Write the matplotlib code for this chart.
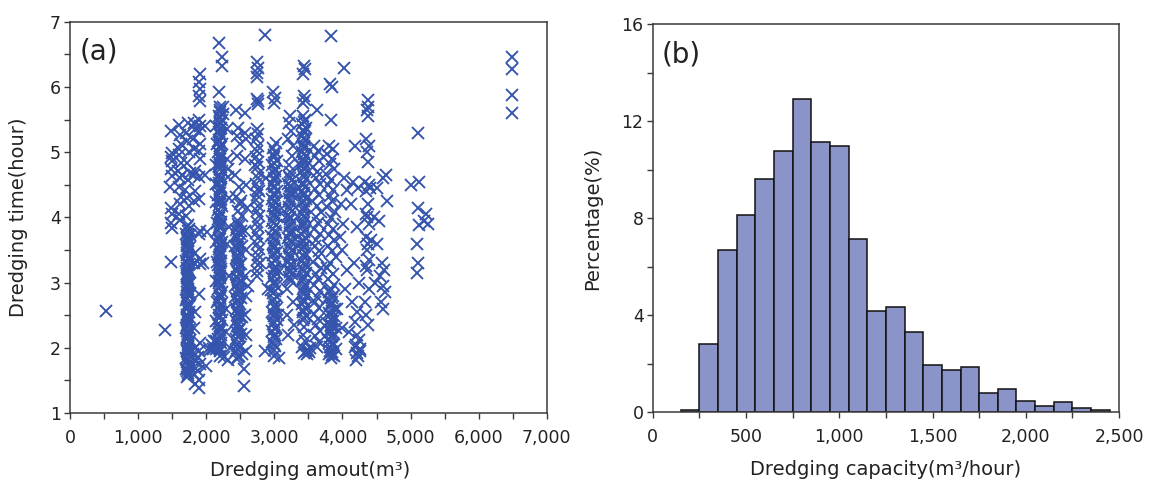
import numpy as np
import matplotlib
matplotlib.use("Agg")
import matplotlib.pyplot as plt
from matplotlib.ticker import MultipleLocator, FuncFormatter

# ---- (a) dredging amount (m3) vs. dredging time (hour), grouped by column ----
col_isolated = [(533, 2.56), (1402, 2.27)]

col_1500 = [(1480, 5.32), (1492, 4.99), (1476, 4.93), (1500, 4.86), (1486, 4.74), (1497, 4.64),
            (1470, 4.47), (1488, 4.14), (1482, 3.91), (1503, 3.84), (1485, 3.31), (1495, 4.05)]

col_1600 = [(1598, 5.42), (1612, 5.27), (1625, 5.12), (1604, 4.96), (1633, 4.83), (1590, 4.71),
            (1618, 4.60), (1606, 4.46), (1628, 4.31), (1611, 4.20), (1600, 4.06), (1622, 3.96),
            (1640, 4.65), (1595, 5.05)]

col_1720 = [(1718, 1.55), (1734, 1.61), (1709, 1.68), (1741, 1.72), (1722, 1.79), (1705, 1.85),
            (1738, 1.90), (1716, 1.96), (1727, 2.02), (1744, 2.09), (1712, 2.14), (1730, 2.20),
            (1720, 2.26), (1707, 2.31), (1739, 2.38), (1725, 2.44), (1714, 2.50), (1746, 2.55),
            (1721, 2.62), (1733, 2.68), (1708, 2.73), (1740, 2.80), (1717, 2.86), (1729, 2.91),
            (1711, 2.97), (1736, 3.04), (1723, 3.10), (1745, 3.15), (1715, 3.22), (1731, 3.27),
            (1706, 3.34), (1742, 3.39), (1719, 3.46), (1728, 3.52), (1713, 3.57), (1737, 3.64),
            (1724, 3.70), (1710, 3.75), (1743, 3.82), (1726, 3.88),
            (1760, 1.70), (1752, 1.83), (1765, 1.95), (1757, 2.12), (1762, 2.29), (1750, 2.47),
            (1768, 2.66), (1755, 2.84), (1763, 3.00), (1751, 3.18), (1766, 3.36), (1758, 3.55),
            (1761, 3.73),
            (1700, 4.02), (1745, 4.18), (1720, 4.30), (1690, 4.42), (1735, 4.57), (1760, 4.68),
            (1715, 4.83), (1740, 5.00), (1725, 5.18), (1705, 5.30), (1730, 5.45)]
col_1720_core = [(1726, 1.58), (1719, 1.64), (1731, 1.75), (1723, 1.82), (1729, 1.93), (1717, 1.99),
                 (1733, 2.05), (1721, 2.17), (1728, 2.23), (1716, 2.35), (1732, 2.41), (1724, 2.47),
                 (1718, 2.59), (1730, 2.65), (1722, 2.76), (1727, 2.83), (1720, 2.94), (1734, 3.00),
                 (1725, 3.07), (1717, 3.13), (1729, 3.19), (1723, 3.30), (1731, 3.36), (1719, 3.43),
                 (1727, 3.49), (1733, 3.60), (1721, 3.67), (1728, 3.79), (1718, 3.85)]

col_1870 = [(1905, 6.20), (1898, 6.08), (1912, 5.97), (1893, 5.87), (1907, 5.79), (1901, 5.50),
            (1915, 5.41), (1890, 5.32), (1904, 5.12), (1896, 5.02), (1910, 4.90), (1900, 4.62),
            (1892, 4.29), (1908, 3.80), (1897, 3.74), (1913, 3.36), (1902, 3.28), (1894, 2.83),
            (1909, 2.07), (1899, 1.95), (1886, 1.86), (1905, 1.76), (1880, 1.65), (1895, 1.50),
            (1888, 1.38),
            (1820, 5.45), (1835, 5.36), (1812, 5.20), (1828, 5.05), (1840, 4.72), (1818, 4.65),
            (1832, 4.40), (1825, 4.25), (1838, 3.45), (1815, 3.30), (1830, 2.55), (1822, 2.30),
            (1842, 2.00), (1810, 1.90), (1836, 1.80), (1826, 1.70), (1819, 1.60), (1833, 1.45)]

col_2000 = [(1985, 4.65), (2010, 3.78), (2035, 2.00), (1995, 1.72), (2050, 1.97), (2080, 2.05),
            (2100, 1.98), (2115, 2.10), (1960, 3.30), (1975, 5.40)]

col_2200 = [(2198, 1.96), (2183, 2.02), (2214, 2.07), (2176, 2.13), (2221, 2.20), (2190, 2.25),
            (2207, 2.31), (2179, 2.37), (2226, 2.43), (2194, 2.50), (2211, 2.55), (2185, 2.61),
            (2219, 2.68), (2173, 2.73), (2203, 2.79), (2229, 2.85), (2188, 2.92), (2216, 2.97),
            (2181, 3.03), (2209, 3.10), (2196, 3.15), (2224, 3.21), (2177, 3.27), (2212, 3.34),
            (2192, 3.39), (2218, 3.45), (2184, 3.52), (2205, 3.57), (2231, 3.63), (2187, 3.69),
            (2215, 3.75), (2174, 3.81), (2201, 3.87), (2222, 3.93), (2189, 3.99), (2210, 4.05),
            (2180, 4.11), (2227, 4.17), (2197, 4.24), (2213, 4.29), (2178, 4.35), (2206, 4.42),
            (2223, 4.47), (2186, 4.53), (2217, 4.60), (2193, 4.65), (2228, 4.71), (2182, 4.78),
            (2208, 4.83), (2199, 4.89), (2220, 4.95), (2175, 5.01), (2204, 5.07), (2225, 5.13),
            (2191, 5.19), (2212, 5.25), (2183, 5.31), (2218, 5.38), (2196, 5.43), (2230, 5.49),
            (2188, 5.56), (2209, 5.62), (2200, 5.69),
            (2150, 2.10), (2145, 2.42), (2155, 2.71), (2148, 3.02), (2152, 3.31), (2146, 3.63),
            (2154, 3.92), (2149, 4.24), (2151, 4.52), (2147, 4.81), (2153, 5.12), (2150, 5.40),
            (2185, 6.68), (2225, 6.46), (2232, 6.33), (2190, 5.93), (2205, 1.88), (2262, 1.86),
            (2140, 1.98), (2250, 5.70), (2240, 5.58)]
col_2200_core = [(2202, 1.99), (2195, 2.10), (2208, 2.16), (2199, 2.28), (2204, 2.34), (2193, 2.46),
                 (2206, 2.58), (2200, 2.64), (2197, 2.76), (2209, 2.82), (2202, 2.95), (2194, 3.00),
                 (2205, 3.07), (2199, 3.18), (2207, 3.24), (2196, 3.30), (2203, 3.42), (2200, 3.49),
                 (2208, 3.60), (2195, 3.66), (2204, 3.72), (2198, 3.84), (2206, 3.90), (2193, 4.02),
                 (2201, 4.08), (2209, 4.20), (2196, 4.27), (2203, 4.38), (2199, 4.45), (2207, 4.57),
                 (2194, 4.62), (2202, 4.75), (2205, 4.80), (2197, 4.92), (2208, 4.98), (2200, 5.10),
                 (2195, 5.16), (2204, 5.28), (2198, 5.35), (2206, 5.46), (2201, 5.53), (2197, 5.65)]

col_2330 = [(2300, 4.90), (2320, 4.62), (2340, 4.30), (2310, 3.60), (2330, 3.10), (2295, 2.60),
            (2345, 2.00), (2315, 1.82), (2325, 4.75), (2305, 5.35), (2335, 3.85), (2290, 2.25)]

col_2470 = [(2455, 1.83), (2478, 1.88), (2440, 1.95), (2492, 2.01), (2466, 2.06), (2430, 2.13),
            (2484, 2.19), (2450, 2.24), (2500, 2.31), (2461, 2.37), (2436, 2.42), (2488, 2.49),
            (2472, 2.55), (2445, 2.60), (2496, 2.67), (2458, 2.73), (2427, 2.78), (2481, 2.85),
            (2468, 2.91), (2439, 2.96), (2494, 3.03), (2452, 3.09), (2475, 3.14), (2433, 3.21),
            (2486, 3.27), (2463, 3.32), (2447, 3.39), (2498, 3.45), (2470, 3.50), (2425, 3.57),
            (2483, 3.63), (2457, 3.68), (2491, 3.75), (2443, 3.81), (2474, 3.87), (2460, 3.94),
            (2520, 1.90), (2515, 2.21), (2523, 2.48), (2518, 2.76), (2525, 3.01), (2512, 3.29),
            (2521, 3.56), (2516, 3.79), (2524, 4.02), (2514, 4.26),
            (2430, 5.65), (2470, 5.37), (2445, 5.25), (2490, 5.12), (2455, 4.95), (2425, 4.65),
            (2480, 4.47), (2440, 4.32), (2500, 4.20), (2465, 4.10),
            (2555, 1.67), (2560, 1.42)]
col_2470_core = [(2462, 1.86), (2470, 1.98), (2456, 2.04), (2466, 2.16), (2474, 2.27), (2459, 2.34),
                 (2468, 2.45), (2463, 2.52), (2476, 2.63), (2457, 2.70), (2467, 2.81), (2472, 2.88),
                 (2461, 2.99), (2469, 3.06), (2458, 3.18), (2473, 3.24), (2464, 3.36), (2455, 3.42),
                 (2471, 3.54), (2466, 3.60), (2459, 3.71), (2468, 3.78), (2463, 3.90)]

col_2570 = [(2575, 5.60), (2565, 5.30), (2585, 5.20), (2570, 4.90), (2580, 4.50), (2568, 3.80),
            (2590, 3.50), (2572, 3.10), (2583, 2.80), (2566, 2.50), (2578, 2.20), (2588, 1.95),
            (2600, 4.15), (2610, 2.95)]

col_2750 = [(2745, 6.38), (2760, 6.30), (2752, 6.22), (2740, 6.15), (2748, 5.81), (2763, 5.78),
            (2755, 5.74), (2742, 5.35), (2758, 5.28), (2735, 5.20), (2766, 5.10), (2749, 5.02),
            (2731, 4.93), (2761, 4.85), (2744, 4.77), (2770, 4.68), (2753, 4.60), (2738, 4.52),
            (2764, 4.43), (2747, 4.35), (2733, 4.27), (2759, 4.18), (2751, 4.10), (2768, 4.02),
            (2741, 3.93), (2756, 3.85), (2736, 3.76), (2762, 3.68), (2746, 3.60), (2771, 3.51),
            (2754, 3.43), (2739, 3.35), (2765, 3.27), (2750, 3.18), (2743, 3.10), (2780, 4.40),
            (2790, 3.30), (2715, 4.80)]

col_2860 = [(2868, 6.80), (2858, 1.95), (2880, 4.60), (2900, 2.90)]

col_3000 = [(2990, 1.97), (3015, 2.03), (2972, 2.09), (3030, 2.14), (3002, 2.20), (2960, 2.26),
            (3021, 2.32), (2983, 2.37), (3040, 2.43), (2995, 2.49), (2966, 2.55), (3026, 2.60),
            (3008, 2.66), (2978, 2.72), (3035, 2.78), (2987, 2.84), (2958, 2.89), (3018, 2.95),
            (3000, 3.01), (2970, 3.07), (3032, 3.13), (2992, 3.18), (3012, 3.24), (2963, 3.30),
            (3024, 3.36), (2981, 3.42), (3038, 3.47), (2998, 3.53), (2975, 3.59), (3010, 3.65),
            (2956, 3.71), (3028, 3.76), (2985, 3.82), (3019, 3.88), (2967, 3.94), (3036, 4.00),
            (2994, 4.05), (3005, 4.11), (2977, 4.17), (3022, 4.23), (2961, 4.29), (2989, 4.35),
            (3033, 4.40), (3013, 4.46), (2971, 4.52), (3000, 4.58), (3027, 4.64), (2980, 4.70),
            (3016, 4.75), (2965, 4.81), (3039, 4.87), (2996, 4.93), (3009, 5.00), (2984, 5.07),
            (3025, 5.14),
            (2985, 5.92), (3010, 5.83), (2998, 5.76), (3075, 1.85), (3000, 1.88), (3060, 2.50),
            (3055, 3.20), (3065, 4.10)]
col_3000_core = [(2998, 2.06), (2990, 2.17), (3004, 2.29), (2995, 2.40), (3002, 2.52), (2988, 2.63),
                 (2999, 2.75), (3006, 2.87), (2993, 2.98), (3001, 3.10), (2996, 3.21), (3005, 3.33),
                 (2989, 3.45), (3000, 3.56), (2994, 3.68), (3003, 3.79), (2997, 3.91), (2991, 4.02),
                 (3004, 4.14), (2999, 4.26), (2993, 4.38), (3002, 4.49), (2996, 4.61), (3006, 4.72),
                 (2990, 4.84), (3001, 4.96)]

col_3230 = [(3230, 5.55), (3215, 5.45), (3248, 5.32), (3205, 5.20), (3260, 4.95), (3222, 4.80),
            (3236, 4.70), (3212, 4.64), (3254, 4.58), (3197, 4.52), (3243, 4.46), (3226, 4.40),
            (3266, 4.34), (3208, 4.28), (3239, 4.22), (3219, 4.16), (3258, 4.10), (3201, 4.04),
            (3232, 3.98), (3249, 3.92), (3214, 3.86), (3262, 3.80), (3227, 3.74), (3204, 3.68),
            (3245, 3.62), (3221, 3.56), (3256, 3.50), (3210, 3.44), (3237, 3.38), (3199, 3.32),
            (3251, 3.26), (3224, 3.20), (3263, 3.14), (3216, 3.08), (3241, 3.02),
            (3190, 2.90), (3270, 2.70), (3180, 2.50), (3285, 2.35), (3200, 2.20), (3275, 5.10),
            (3290, 4.40)]
col_3230_core = [(3232, 3.05), (3226, 3.17), (3238, 3.29), (3229, 3.41), (3235, 3.53), (3224, 3.65),
                 (3233, 3.77), (3228, 3.89), (3237, 4.01), (3230, 4.13), (3225, 4.25), (3234, 4.37),
                 (3229, 4.49), (3236, 4.61)]

col_3430 = [(3430, 6.32), (3445, 6.27), (3420, 6.20), (3438, 5.86), (3450, 5.80), (3425, 5.76),
            (3418, 5.55), (3447, 5.49), (3403, 5.43), (3462, 5.37), (3431, 5.31), (3409, 5.25),
            (3454, 5.19), (3425, 5.13), (3441, 5.07), (3399, 5.01), (3466, 4.95), (3415, 4.89),
            (3436, 4.83), (3452, 4.77), (3407, 4.71), (3428, 4.65), (3459, 4.59), (3421, 4.53),
            (3444, 4.47), (3401, 4.41), (3434, 4.35), (3464, 4.29), (3412, 4.23), (3449, 4.17),
            (3426, 4.11), (3404, 4.05), (3457, 3.99), (3433, 3.93), (3417, 3.87), (3446, 3.81),
            (3398, 3.75), (3461, 3.69), (3423, 3.63), (3439, 3.57), (3410, 3.51), (3455, 3.45),
            (3429, 3.39), (3405, 3.33), (3448, 3.27), (3419, 3.21), (3465, 3.15), (3437, 3.09),
            (3402, 3.03), (3451, 2.97), (3427, 2.91), (3414, 2.85), (3458, 2.79), (3432, 2.73),
            (3408, 2.67), (3443, 2.61), (3424, 2.55), (3460, 2.49), (3416, 2.43),
            (3440, 2.32), (3420, 2.20), (3455, 2.10), (3410, 2.02), (3470, 1.95), (3435, 1.92),
            (3490, 1.97), (3505, 1.93), (3520, 2.00), (3480, 1.90), (3380, 3.60), (3375, 4.80)]
col_3430_core = [(3432, 2.46), (3426, 2.58), (3437, 2.70), (3429, 2.82), (3434, 2.94), (3424, 3.06),
                 (3431, 3.18), (3436, 3.30), (3427, 3.42), (3433, 3.54), (3428, 3.66), (3435, 3.78),
                 (3425, 3.90), (3432, 4.02), (3437, 4.14), (3429, 4.26), (3434, 4.38), (3426, 4.50),
                 (3431, 4.62), (3436, 4.74), (3428, 4.86), (3433, 4.98), (3430, 5.10), (3435, 5.22),
                 (3427, 5.34), (3432, 5.46)]

col_3620 = [(3620, 5.65), (3580, 5.10), (3640, 5.02), (3600, 4.95), (3660, 4.86), (3570, 4.78),
            (3630, 4.70), (3610, 4.60), (3675, 4.52), (3590, 4.43), (3650, 4.35), (3560, 4.26),
            (3625, 4.18), (3685, 4.09), (3605, 4.00), (3645, 3.92), (3575, 3.83), (3665, 3.74),
            (3615, 3.66), (3595, 3.57), (3655, 3.48), (3635, 3.40), (3565, 3.31), (3680, 3.22),
            (3608, 3.13), (3642, 3.05), (3585, 2.96), (3670, 2.87), (3622, 2.78), (3598, 2.70),
            (3658, 2.61), (3575, 2.52), (3638, 2.44), (3612, 2.35), (3668, 2.26), (3590, 2.18),
            (3650, 2.09), (3625, 2.01)]

col_3830 = [(3830, 6.78), (3822, 6.05), (3840, 6.00), (3830, 5.50),
            (3800, 5.10), (3860, 5.05), (3780, 4.98), (3845, 4.90), (3815, 4.82), (3880, 4.75),
            (3765, 4.67), (3830, 4.58), (3795, 4.50), (3865, 4.42), (3810, 4.33), (3850, 4.25),
            (3775, 4.16), (3890, 4.08), (3825, 3.99), (3790, 3.90), (3858, 3.82), (3805, 3.73),
            (3870, 3.65), (3785, 3.56), (3840, 3.48), (3900, 3.39), (3818, 3.30), (3770, 3.22),
            (3855, 3.13), (3795, 3.05), (3875, 2.96),
            (3830, 2.90), (3805, 2.85), (3860, 2.80), (3780, 2.75), (3845, 2.70), (3815, 2.64),
            (3890, 2.59), (3800, 2.54), (3870, 2.49), (3825, 2.43), (3770, 2.38), (3850, 2.33),
            (3810, 2.28), (3880, 2.22), (3835, 2.17), (3795, 2.12), (3865, 2.07), (3820, 2.02),
            (3900, 1.98), (3840, 1.94), (3805, 1.90), (3875, 1.87), (3830, 1.85), (3910, 2.30),
            (3920, 2.60)]
col_3830_core = [(3842, 1.89), (3818, 1.96), (3855, 2.04), (3828, 2.10), (3848, 2.19), (3815, 2.25),
                 (3838, 2.35), (3860, 2.41), (3822, 2.51), (3850, 2.57), (3833, 2.67), (3845, 2.77),
                 (3820, 2.88)]

col_4050 = [(4030, 6.30), (4020, 4.60), (4060, 4.42), (4010, 3.90), (4000, 3.50), (4070, 3.20),
            (4040, 2.90), (4000, 2.30), (3960, 3.70), (3980, 4.20)]

col_4200 = [(4190, 5.10), (4150, 4.55), (4230, 4.45), (4120, 4.20), (4210, 3.85), (4170, 3.30),
            (4250, 3.00), (4140, 2.70), (4220, 2.55), (4180, 2.40), (4210, 2.20), (4240, 2.12),
            (4195, 2.05), (4255, 1.98), (4220, 1.92), (4235, 1.87), (4205, 1.82), (4260, 1.95),
            (4185, 2.02), (4100, 2.25)]

col_4370 = [(4370, 5.80), (4380, 5.70), (4360, 5.65), (4375, 5.55), (4345, 5.20), (4385, 5.10),
            (4355, 5.00), (4370, 4.85), (4330, 4.55), (4395, 4.50), (4350, 4.40), (4380, 4.20),
            (4340, 4.05), (4360, 4.00), (4390, 3.90), (4345, 3.70), (4375, 3.60), (4355, 3.50),
            (4385, 3.35), (4340, 3.25), (4365, 3.20), (4395, 2.90), (4330, 2.70), (4350, 2.50),
            (4380, 2.35), (4420, 3.65), (4410, 4.45)]

col_4550 = [(4640, 4.65), (4600, 4.60), (4500, 4.45), (4660, 4.25), (4470, 4.00), (4540, 3.95),
            (4500, 3.60), (4580, 3.30), (4610, 3.20), (4550, 3.10), (4590, 2.95), (4620, 2.85),
            (4560, 2.70), (4600, 2.60), (4480, 3.00)]

col_5100 = [(5000, 4.50), (5110, 5.30), (5120, 4.55), (5110, 4.14), (5100, 3.60), (5110, 3.30),
            (5100, 3.15), (5130, 3.88), (5230, 4.05), (5250, 3.90), (5200, 3.95)]

col_6500 = [(6495, 6.46), (6495, 6.28), (6495, 5.88), (6495, 5.60)]

# ---- (b) histogram of dredging capacity (m3/hour) ----
bin_edges = [150, 250, 350, 450, 550, 650, 750, 850, 950, 1050, 1150, 1250,
             1350, 1450, 1550, 1650, 1750, 1850, 1950, 2050, 2150, 2250, 2350, 2450]
percentage = [0.10, 2.82, 6.68, 8.13, 9.60, 10.76, 12.93, 11.14, 10.98, 7.15, 4.19, 4.34,
              3.29, 1.94, 1.72, 1.87, 0.79, 0.95, 0.47, 0.25, 0.40, 0.18, 0.10]

# ---- figure ----
plt.rcParams["font.family"] = ["DejaVu Sans"]
text_color = "#222222"
spine_color = "#3a3a3a"
marker_color = "#3454ad"
bar_color = "#8a94c9"

fig = plt.figure(figsize=(11.49, 4.86), dpi=100)
ax_a = fig.add_axes([0.0609, 0.150, 0.415, 0.805])
ax_b = fig.add_axes([0.568, 0.152, 0.406, 0.798])

columns = [col_isolated, col_1500, col_1600, col_1720, col_1720_core, col_1870, col_2000,
           col_2200, col_2200_core, col_2330, col_2470, col_2470_core, col_2570, col_2750,
           col_2860, col_3000, col_3000_core, col_3230, col_3230_core, col_3430, col_3430_core,
           col_3620, col_3830, col_3830_core, col_4050, col_4200, col_4370, col_4550,
           col_5100, col_6500]
pts = np.array([p for col in columns for p in col])
ax_a.plot(pts[:, 0], pts[:, 1], linestyle="none", marker="x", markersize=8.4,
          markeredgewidth=1.35, color=marker_color)

ax_a.set_xlim(0, 7000)
ax_a.set_ylim(1, 7)
ax_a.xaxis.set_major_locator(MultipleLocator(1000))
ax_a.xaxis.set_minor_locator(MultipleLocator(500))
ax_a.yaxis.set_major_locator(MultipleLocator(1))
ax_a.yaxis.set_minor_locator(MultipleLocator(0.5))
ax_a.xaxis.set_major_formatter(FuncFormatter(lambda v, p: f"{v:,.0f}"))
ax_a.set_xlabel("Dredging amout(m\u00b3)", fontsize=14, color=text_color)
ax_a.set_ylabel("Dredging time(hour)", fontsize=14, color=text_color)
ax_a.xaxis.set_label_coords(0.503, -0.122)
ax_a.yaxis.set_label_coords(-0.087, 0.5)
ax_a.text(0.02, 0.925, "(a)", transform=ax_a.transAxes, fontsize=20,
          va="center", ha="left", color=text_color)

widths = np.diff(bin_edges)
ax_b.bar(bin_edges[:-1], percentage, width=widths, align="edge", color=bar_color,
         edgecolor="#111111", linewidth=1.1)
ax_b.set_xlim(0, 2500)
ax_b.set_ylim(0, 16)
ax_b.xaxis.set_major_locator(MultipleLocator(500))
ax_b.xaxis.set_minor_locator(MultipleLocator(250))
ax_b.yaxis.set_major_locator(MultipleLocator(4))
ax_b.yaxis.set_minor_locator(MultipleLocator(2))
ax_b.xaxis.set_major_formatter(FuncFormatter(lambda v, p: f"{v:,.0f}"))
ax_b.set_xlabel("Dredging capacity(m\u00b3/hour)", fontsize=14, color=text_color)
ax_b.set_ylabel("Percentage(%)", fontsize=14, color=text_color)
ax_b.xaxis.set_label_coords(0.5, -0.124)
ax_b.yaxis.set_label_coords(-0.108, 0.5)
ax_b.text(0.02, 0.923, "(b)", transform=ax_b.transAxes, fontsize=20,
          va="center", ha="left", color=text_color)

for ax in (ax_a, ax_b):
    for s in ax.spines.values():
        s.set_color(spine_color)
        s.set_linewidth(1.1)
    ax.tick_params(which="both", direction="out", color=spine_color, width=1.0,
                   labelsize=12.5, labelcolor=text_color)
    ax.tick_params(which="major", length=4.5)
    ax.tick_params(which="minor", length=4.5)
    ax.tick_params(axis="x", which="major", pad=7)
    ax.tick_params(axis="y", which="major", pad=2)

fig.savefig("out.png", dpi=100, facecolor="white")
